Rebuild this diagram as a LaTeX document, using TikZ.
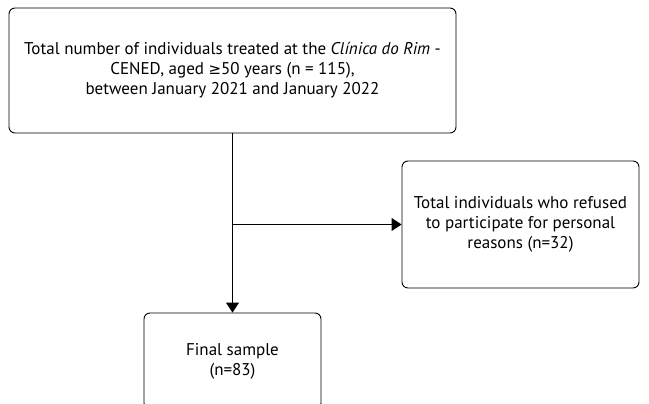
\documentclass[tikz,border=0pt]{standalone}
\usepackage{fontspec}
\setmainfont{PT Sans}
\newfontfamily\symfont{DejaVu Sans}
\usetikzlibrary{arrows.meta, positioning}

\tikzset{
    flowbox/.style={draw, rounded corners=6pt, line width=0.9pt, align=center,
        font=\fontsize{17}{20}\selectfont, inner sep=0pt},
    flowarrow/.style={line width=0.9pt, -{Triangle[length=10pt, width=13pt]}}
}

\begin{document}
\begin{tikzpicture}[x=1pt, y=-1pt]
    \useasboundingbox (0, 0) rectangle (649, 404);

    \node[flowbox, minimum width=447pt, minimum height=125pt] (total) at (232.5, 70.5)
        {Total number of individuals treated at the \textit{Clínica do Rim} -\\
         CENED, aged {\symfont\fontsize{15}{20}\selectfont ≥}50 years (n = 115),\\
         between January 2021 and January 2022};
    \node[flowbox, minimum width=237pt, minimum height=127pt] (refused) at (520.5, 224.5)
        {Total individuals who refused\\ to participate for personal\\ reasons (n=32)};
    \node[flowbox, minimum width=177pt, minimum height=96pt] (final) at (232.5, 361)
        {Final sample\\ (n=83)};

    \draw[flowarrow] (total.south) -- (final.north);
    \draw[flowarrow] (total.south |- refused.west) -- (refused.west);
\end{tikzpicture}
\end{document}
